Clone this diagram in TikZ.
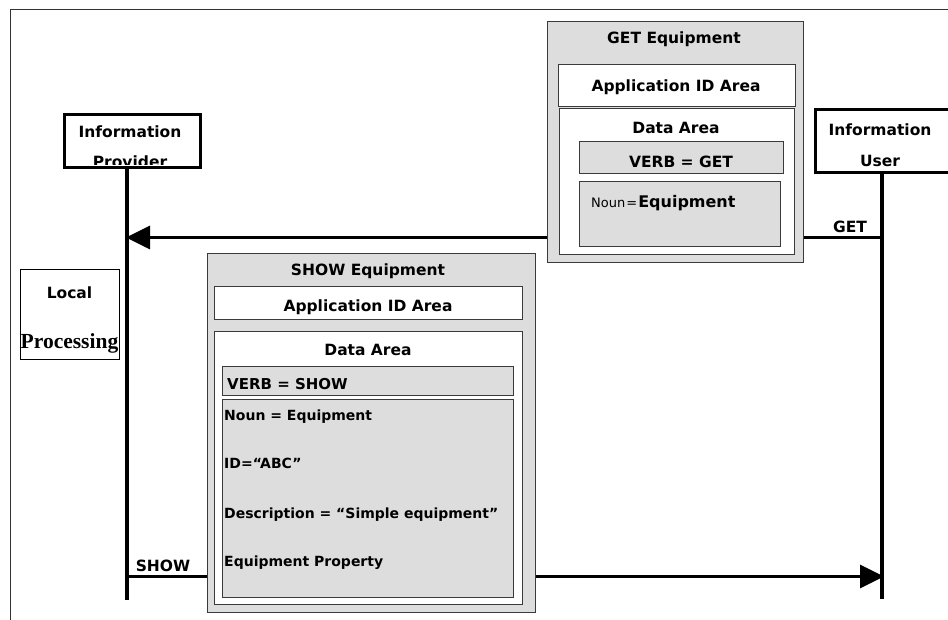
\documentclass[tikz,border=0pt]{standalone}
\usepackage{fontspec}
\setmainfont{DejaVu Sans}
\newfontfamily\procfont{Liberation Serif}
\usetikzlibrary{arrows.meta}

\definecolor{panel}{HTML}{DDDDDD}
\definecolor{edge}{HTML}{3A3A3A}

\begin{document}
\begin{tikzpicture}[x=1pt,y=-1pt,
  txt/.style={font=\fontsize{15.5}{17}\selectfont\bfseries, inner sep=0pt},
  fieldtxt/.style={font=\fontsize{14}{16}\selectfont\bfseries, inner sep=0pt, anchor=west},
  actor/.style={draw=black, line width=3pt, fill=white, inner sep=0pt, anchor=north west},
  grayframe/.style={draw=edge, line width=1pt, fill=panel, inner sep=0pt, anchor=north west},
  whiteframe/.style={draw=edge, line width=1pt, fill=white, inner sep=0pt, anchor=north west},
  plainframe/.style={draw=black, line width=0.8pt, fill=white, inner sep=0pt, anchor=north west},
  lifeline/.style={line width=4pt},
  msg/.style={line width=3pt, -{Triangle[length=24pt,width=23pt]}}]

\useasboundingbox (0,0) rectangle (948,620);

% outer frame (left and top edges)
\draw[line width=0.8pt, draw=black!80] (10,640) -- (10,9) -- (960,9);

% actors
\node[actor, minimum width=136pt, minimum height=53pt] (prov) at (62.5,113.5) {};
\node[actor, minimum width=140pt, minimum height=63pt] (user) at (813.5,108.5) {};
\node[txt] (provname) at (130,132) {Information};
\begin{scope}
  \clip (64,115) rectangle (197,164.5);
  \node[txt] (provname2) at (130,162) {Provider};
\end{scope}
\node[txt] (username) at (880,130) {Information};
\node[txt] (username2) at (880,161) {User};

% lifelines
\coordinate (provend) at (127,600);
\coordinate (userend) at (882,599);
\draw[lifeline] (prov.south -| provend) -- (provend);
\draw[lifeline] (user.south -| userend) -- (userend);

% messages
\coordinate (getR) at (882,237.5);
\coordinate (getL) at (126,237.5);
\coordinate (showL) at (127,576.5);
\coordinate (showR) at (884,576.5);
\draw[msg] (getR) -- (getL);
\draw[msg] (showL) -- (showR);
\node[txt] (getlbl) at (850,227) {GET};
\node[txt] (showlbl) at (163,566) {SHOW};

% local processing note
\node[plainframe, minimum width=99pt, minimum height=90pt] (local) at (20,269) {};
\node[txt] (locallbl) at (69.5,293) {Local};
\node[inner sep=0pt, font=\procfont\fontsize{21.5}{23}\selectfont\bfseries] (proclbl) at (69.5,343) {Processing};

% GET Equipment message
\node[grayframe, minimum width=256pt, minimum height=241pt] (getmsg) at (547,21) {};
\node[txt] (gettitle) at (674,39) {GET Equipment};
\node[whiteframe, minimum width=237pt, minimum height=42pt] (getapp) at (558,64) {};
\node[txt] (getapplbl) at (676,87) {Application ID Area};
\node[whiteframe, minimum width=235pt, minimum height=146pt] (getdata) at (559,108) {};
\node[txt] (getdatalbl) at (676,128) {Data Area};
\node[grayframe, minimum width=204pt, minimum height=32pt] (getverb) at (579,141) {};
\node[txt] (getverblbl) at (681,162) {VERB = GET};
\node[grayframe, minimum width=201pt, minimum height=65pt] (getnoun) at (579,181) {};
\node[anchor=west, inner sep=0pt] (getnounlbl) at (591,203)
  {\fontsize{13}{15}\selectfont Noun\kern1pt=\kern1pt\fontsize{16}{18}\selectfont\bfseries Equipment};

% SHOW Equipment message
\node[grayframe, minimum width=328pt, minimum height=359pt] (showmsg) at (207,253) {};
\node[txt] (showtitle) at (368,271) {SHOW Equipment};
\node[whiteframe, minimum width=308pt, minimum height=33pt] (showapp) at (214,286) {};
\node[txt] (showapplbl) at (368,307) {Application ID Area};
\node[whiteframe, minimum width=308pt, minimum height=273pt] (showdata) at (214,331) {};
\node[txt] (showdatalbl) at (368,350) {Data Area};
\node[grayframe, minimum width=291pt, minimum height=29pt] (showverb) at (222,366) {};
\node[fieldtxt, font=\fontsize{15}{17}\selectfont\bfseries] (showverblbl) at (227,384) {VERB = SHOW};
\node[grayframe, minimum width=291pt, minimum height=198pt] (shownoun) at (222,399) {};
\node[fieldtxt] (shownoun1) at (224,417) {Noun = Equipment};
\node[fieldtxt] (shownoun2) at (224,463) {ID=“ABC”};
\node[fieldtxt] (shownoun3) at (224,515) {Description = “Simple equipment”};
\node[fieldtxt] (shownoun4) at (224,563) {Equipment Property};
\end{tikzpicture}
\end{document}
